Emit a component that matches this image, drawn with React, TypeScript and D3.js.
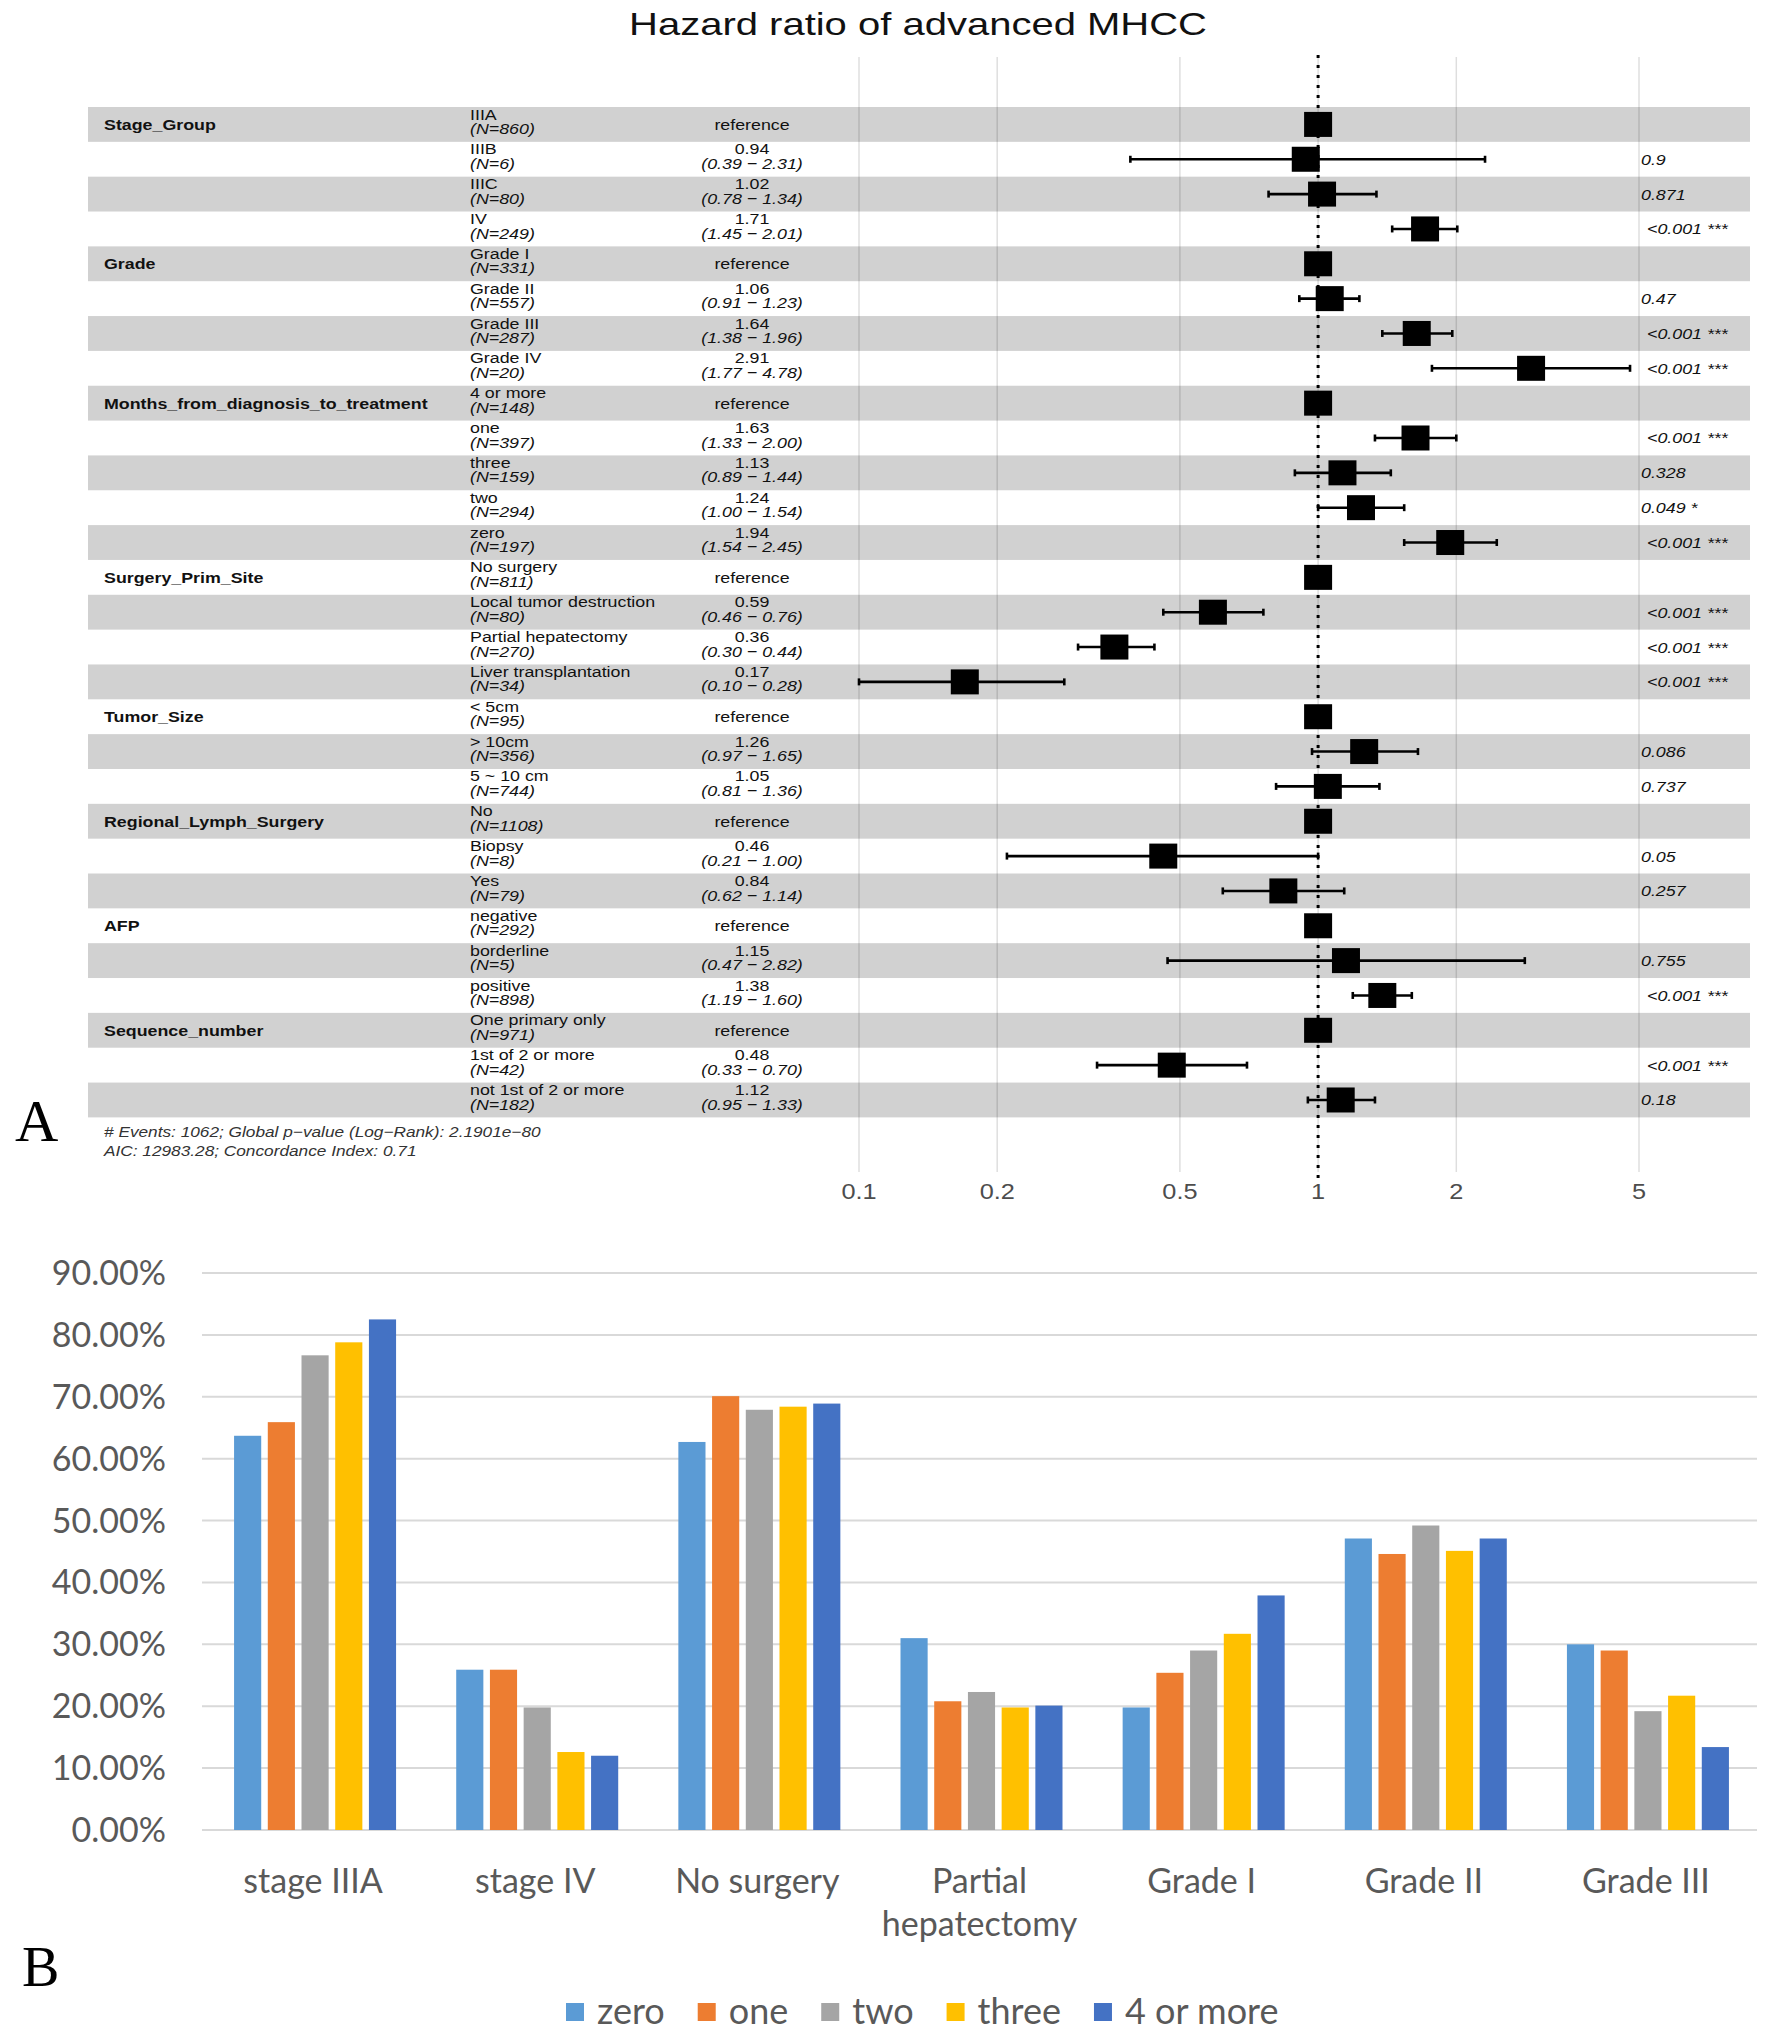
import * as d3 from "d3";
import { useEffect, useRef } from "react";

const W = 1773;
const H = 2041;

// ===== Panel A: hazard ratios =====
const rowVariable = [
  "Stage_Group", "", "", "",
  "Grade", "", "", "",
  "Months_from_diagnosis_to_treatment", "", "", "", "",
  "Surgery_Prim_Site", "", "", "",
  "Tumor_Size", "", "",
  "Regional_Lymph_Surgery", "", "",
  "AFP", "", "",
  "Sequence_number", "", "",
];
const rowLevel = [
  "IIIA", "IIIB", "IIIC", "IV",
  "Grade I", "Grade II", "Grade III", "Grade IV",
  "4 or more", "one", "three", "two", "zero",
  "No surgery", "Local tumor destruction", "Partial hepatectomy", "Liver transplantation",
  "< 5cm", "> 10cm", "5 ~ 10 cm",
  "No", "Biopsy", "Yes",
  "negative", "borderline", "positive",
  "One primary only", "1st of 2 or more", "not 1st of 2 or more",
];
const rowN = [
  860, 6, 80, 249,
  331, 557, 287, 20,
  148, 397, 159, 294, 197,
  811, 80, 270, 34,
  95, 356, 744,
  1108, 8, 79,
  292, 5, 898,
  971, 42, 182,
];
const rowHR = [
  1, 0.94, 1.02, 1.71,
  1, 1.06, 1.64, 2.91,
  1, 1.63, 1.13, 1.24, 1.94,
  1, 0.59, 0.36, 0.17,
  1, 1.26, 1.05,
  1, 0.46, 0.84,
  1, 1.15, 1.38,
  1, 0.48, 1.12,
];
const rowLow = [
  null, 0.39, 0.78, 1.45,
  null, 0.91, 1.38, 1.77,
  null, 1.33, 0.89, 1.0, 1.54,
  null, 0.46, 0.3, 0.1,
  null, 0.97, 0.81,
  null, 0.21, 0.62,
  null, 0.47, 1.19,
  null, 0.33, 0.95,
];
const rowHigh = [
  null, 2.31, 1.34, 2.01,
  null, 1.23, 1.96, 4.78,
  null, 2.0, 1.44, 1.54, 2.45,
  null, 0.76, 0.44, 0.28,
  null, 1.65, 1.36,
  null, 1.0, 1.14,
  null, 2.82, 1.6,
  null, 0.7, 1.33,
];
const rowP = [
  "", "0.9", "0.871", "<0.001 ***",
  "", "0.47", "<0.001 ***", "<0.001 ***",
  "", "<0.001 ***", "0.328", "0.049 *", "<0.001 ***",
  "", "<0.001 ***", "<0.001 ***", "<0.001 ***",
  "", "0.086", "0.737",
  "", "0.05", "0.257",
  "", "0.755", "<0.001 ***",
  "", "<0.001 ***", "0.18",
];
const hrTicks = [0.1, 0.2, 0.5, 1, 2, 5];
const footnote = [
  "# Events: 1062; Global p\u2212value (Log\u2212Rank): 2.1901e\u221280",
  "AIC: 12983.28; Concordance Index: 0.71",
];

// ===== Panel B: percentages =====
const bCategories = [
  "stage IIIA",
  "stage IV",
  "No surgery",
  "Partial hepatectomy",
  "Grade I",
  "Grade II",
  "Grade III",
];
const bSeries = ["zero", "one", "two", "three", "4 or more"];
const zeroVals = [63.7, 25.9, 62.7, 31.0, 19.8, 47.1, 30.0];
const oneVals = [65.9, 25.9, 70.1, 20.8, 25.4, 44.6, 29.0];
const twoVals = [76.7, 19.8, 67.9, 22.3, 29.0, 49.2, 19.2];
const threeVals = [78.8, 12.6, 68.4, 19.8, 31.7, 45.1, 21.7];
const fourVals = [82.5, 12.0, 68.9, 20.1, 37.9, 47.1, 13.4];
const bTicks = [0, 10, 20, 30, 40, 50, 60, 70, 80, 90];
const bColors = ["#5b9bd5", "#ed7d31", "#a5a5a5", "#ffc000", "#4472c4"];

const fA = "'Liberation Sans', Arial, sans-serif";
const fB = "Lato, 'Open Sans', sans-serif";
const fSerif = "'Liberation Serif', 'DejaVu Serif', serif";

type TOpt = {
  size: number;
  anchor?: string;
  weight?: string;
  italic?: boolean;
  fill?: string;
  sx?: number;
  family?: string;
};

function addText(
  parent: d3.Selection<SVGGElement, unknown, null, undefined>,
  x: number,
  y: number,
  s: string,
  o: TOpt,
) {
  return parent
    .append("text")
    .attr("transform", `translate(${x},${y}) scale(${o.sx ?? 1},1)`)
    .attr("text-anchor", o.anchor ?? "start")
    .attr("font-family", o.family ?? fA)
    .attr("font-size", o.size)
    .attr("font-weight", o.weight ?? "normal")
    .attr("font-style", o.italic ? "italic" : "normal")
    .attr("fill", o.fill ?? "#111")
    .text(s);
}

export default function App() {
  const ref = useRef<SVGSVGElement | null>(null);

  useEffect(() => {
    document.body.style.margin = "0";
    const svg = d3.select(ref.current);
    svg.selectAll("*").remove();
    const root = svg.append("g") as unknown as d3.Selection<SVGGElement, unknown, null, undefined>;

    // ================= Panel A =================
    const A = root.append("g");
    const nRows = rowLevel.length;
    const y = d3
      .scaleBand<number>()
      .domain(d3.range(nRows))
      .range([107, 1117.4]);
    const rh = y.bandwidth();
    const x = d3.scaleLog().domain([0.1, 5]).range([859, 1639]);
    const SX = 1.15;

    addText(A, 918, 35, "Hazard ratio of advanced MHCC", {
      size: 32,
      anchor: "middle",
      sx: 1.25,
    });

    // zebra rows
    A.selectAll("rect.row")
      .data(d3.range(nRows).filter((i) => i % 2 === 0))
      .enter()
      .append("rect")
      .attr("x", 88)
      .attr("y", (i) => y(i)!)
      .attr("width", 1750 - 88)
      .attr("height", rh)
      .attr("fill", "#d1d1d1");

    // vertical grid
    A.selectAll("line.grid")
      .data(hrTicks)
      .enter()
      .append("line")
      .attr("x1", (d) => x(d))
      .attr("x2", (d) => x(d))
      .attr("y1", 57)
      .attr("y2", 1172)
      .attr("stroke", "#000")
      .attr("stroke-opacity", 0.13)
      .attr("stroke-width", 1.5);

    // axis labels
    hrTicks.forEach((t) =>
      addText(A, x(t), 1199, String(t), {
        size: 22,
        anchor: "middle",
        sx: SX,
        fill: "#4d4d4d",
      }),
    );

    // reference line at 1
    A.append("line")
      .attr("x1", x(1))
      .attr("x2", x(1))
      .attr("y1", 55)
      .attr("y2", 1178)
      .attr("stroke", "#000")
      .attr("stroke-width", 3)
      .attr("stroke-dasharray", "3,7");

    // text columns
    for (let i = 0; i < nRows; i++) {
      const t = y(i)!;
      const c = t + rh / 2;
      if (rowVariable[i])
        addText(A, 104, c + 5.5, rowVariable[i], { size: 15.5, weight: "bold", sx: SX });
      addText(A, 470, t + 12.5, rowLevel[i], { size: 15.5, sx: SX });
      addText(A, 470, t + 27, `(N=${rowN[i]})`, { size: 15.5, italic: true, sx: SX });
      if (rowLow[i] == null) {
        addText(A, 752, c + 5.5, "reference", { size: 15.5, anchor: "middle", sx: SX });
      } else {
        addText(A, 752, t + 12.5, rowHR[i].toFixed(2), { size: 15.5, anchor: "middle", sx: SX });
        addText(
          A,
          752,
          t + 27,
          `(${rowLow[i]!.toFixed(2)} \u2212 ${rowHigh[i]!.toFixed(2)})`,
          { size: 15.5, anchor: "middle", italic: true, sx: SX },
        );
      }
      if (rowP[i])
        addText(A, rowP[i].startsWith("<") ? 1647 : 1641, c + 5.5, rowP[i], {
          size: 15.5,
          italic: true,
          sx: SX,
        });
    }

    // CI lines
    const ciRows = d3.range(nRows).filter((i) => rowLow[i] != null);
    const ci = A.selectAll("g.ci")
      .data(ciRows)
      .enter()
      .append("g")
      .attr("transform", (i) => `translate(0,${y(i)! + rh / 2})`);
    ci.append("line")
      .attr("x1", (i) => x(rowLow[i]!))
      .attr("x2", (i) => x(rowHigh[i]!))
      .attr("stroke", "#000")
      .attr("stroke-width", 2.6);
    ci.append("line")
      .attr("x1", (i) => x(rowLow[i]!))
      .attr("x2", (i) => x(rowLow[i]!))
      .attr("y1", -3.5)
      .attr("y2", 3.5)
      .attr("stroke", "#000")
      .attr("stroke-width", 2.6);
    ci.append("line")
      .attr("x1", (i) => x(rowHigh[i]!))
      .attr("x2", (i) => x(rowHigh[i]!))
      .attr("y1", -3.5)
      .attr("y2", 3.5)
      .attr("stroke", "#000")
      .attr("stroke-width", 2.6);

    // squares
    const sqW = 28;
    const sqH = 25;
    A.selectAll("rect.sq")
      .data(d3.range(nRows))
      .enter()
      .append("rect")
      .attr("x", (i) => x(rowHR[i]) - sqW / 2)
      .attr("y", (i) => y(i)! + rh / 2 - sqH / 2)
      .attr("width", sqW)
      .attr("height", sqH)
      .attr("fill", "#000");

    footnote.forEach((s, k) =>
      addText(A, 104, 1137 + k * 19, s, { size: 15, italic: true, sx: SX, fill: "#333" }),
    );

    addText(A, 15, 1141, "A", { size: 60, family: fSerif, fill: "#000" });

    // ================= Panel B =================
    const B = root.append("g");
    const yB = d3.scaleLinear().domain([0, 90]).range([1830, 1273]);
    const x0 = d3.scaleBand<string>().domain(bCategories).range([202, 1757]);
    const groupW = 162;
    const x1 = d3
      .scaleBand<string>()
      .domain(bSeries)
      .range([-groupW / 2, groupW / 2])
      .paddingInner(0.195);
    const seriesVals = [zeroVals, oneVals, twoVals, threeVals, fourVals];

    B.selectAll("line.hgrid")
      .data(bTicks)
      .enter()
      .append("line")
      .attr("x1", 202)
      .attr("x2", 1757)
      .attr("y1", (d) => yB(d))
      .attr("y2", (d) => yB(d))
      .attr("stroke", "#d9d9d9")
      .attr("stroke-width", 2);

    bTicks.forEach((t) =>
      addText(B, 166, yB(t) + 12, `${t.toFixed(2)}%`, {
        size: 34,
        anchor: "end",
        family: fB,
        fill: "#595959",
      }),
    );

    const groups = B.selectAll("g.cat")
      .data(bCategories)
      .enter()
      .append("g")
      .attr("transform", (d) => `translate(${x0(d)! + x0.bandwidth() / 2 + 2},0)`);

    groups
      .selectAll("rect")
      .data((d, ci) => bSeries.map((s, si) => ({ s, si, v: seriesVals[si][ci] })))
      .enter()
      .append("rect")
      .attr("x", (d) => x1(d.s)!)
      .attr("y", (d) => yB(d.v))
      .attr("width", x1.bandwidth())
      .attr("height", (d) => yB(0) - yB(d.v))
      .attr("fill", (d) => bColors[d.si]);

    // category labels with wrapping
    bCategories.forEach((c) => {
      const cx = x0(c)! + x0.bandwidth() / 2;
      const t = addText(B, cx, 1893, c, {
        size: 34,
        anchor: "middle",
        family: fB,
        fill: "#595959",
      });
      const len = (t.node() as SVGTextElement).getComputedTextLength();
      if (len > x0.bandwidth() - 10 && c.includes(" ")) {
        const parts = c.split(" ");
        t.text(parts[0]);
        addText(B, cx, 1936, parts.slice(1).join(" "), {
          size: 34,
          anchor: "middle",
          family: fB,
          fill: "#595959",
        });
      }
    });

    // legend
    let lx = 566;
    bSeries.forEach((s, i) => {
      B.append("rect")
        .attr("x", lx)
        .attr("y", 2012 - 9)
        .attr("width", 18)
        .attr("height", 18)
        .attr("fill", bColors[i]);
      const t = addText(B, lx + 31, 2024, s, {
        size: 36,
        family: fB,
        fill: "#595959",
      });
      const len = (t.node() as SVGTextElement).getComputedTextLength();
      lx += 31 + len + 33;
    });

    addText(B, 22, 1986, "B", { size: 56, family: fSerif, fill: "#000" });
  }, []);

  return (
    <div style={{ position: "absolute", left: 0, top: 0, width: W, height: H, background: "#fff" }}>
      <svg ref={ref} width={W} height={H} style={{ display: "block" }} />
    </div>
  );
}
